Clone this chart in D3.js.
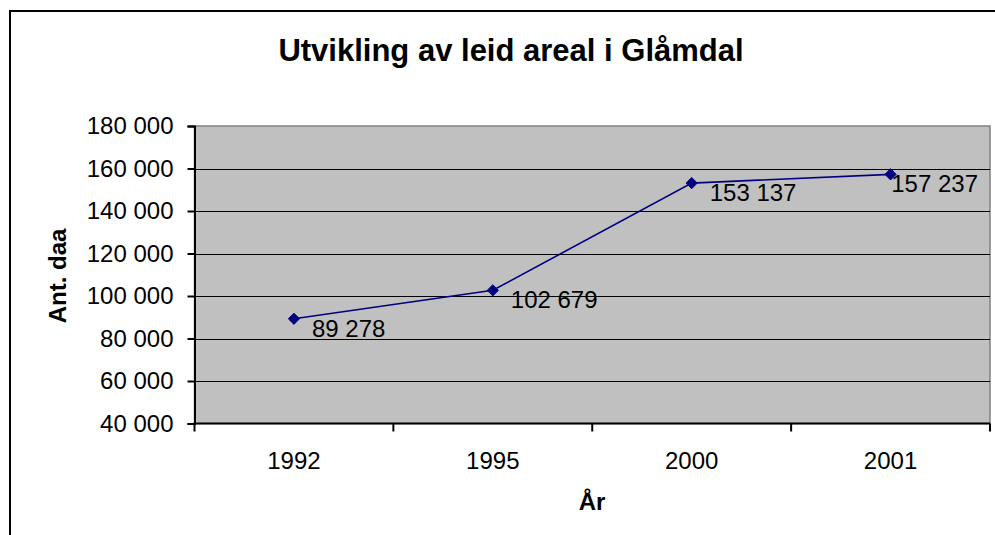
<!DOCTYPE html>
<meta charset="utf-8">
<style>
  body { margin: 0; background: #fff; }
  text { font-family: Arial, 'Liberation Sans', sans-serif; }
</style>
<body>
<script src="https://cdnjs.cloudflare.com/ajax/libs/d3/7.8.5/d3.min.js"></script>
<script>
  var years = ["1992", "1995", "2000", "2001"];
  var areal = [89278, 102679, 153137, 157237];
  var yTicks = [40000, 60000, 80000, 100000, 120000, 140000, 160000, 180000];

  var width = 995,
    height = 535;

  var plotL = 194.5, plotR = 990, plotT = 126, plotB = 423.5;

  var svg = d3.select("body").append("svg")
    .attr("width", width)
    .attr("height", height)

  // outer frame of chart
  svg.append("rect")
    .attr("x", 10).attr("y", 11)
    .attr("width", 1000).attr("height", 540)
    .attr("fill", "#fff")
    .attr("stroke", "#000")
    .attr("stroke-width", 2)

  var x = d3.scaleBand().domain(years).range([plotL, plotR]);
  var y = d3.scaleLinear().domain([40000, 180000]).range([plotB, plotT]);

  var fmt = function(v) {
    return d3.format(",")(v).replace(/,/g, " ")
  };

  // plot area
  svg.append("rect")
    .attr("x", plotL).attr("y", plotT)
    .attr("width", plotR - plotL).attr("height", plotB - plotT)
    .attr("fill", "#c0c0c0")
    .attr("stroke", "#808080")
    .attr("stroke-width", 1.5)

  // gridlines
  svg.append("g")
    .selectAll("line")
    .data(yTicks.slice(1, -1))
    .enter().append("line")
    .attr("x1", plotL).attr("x2", plotR)
    .attr("y1", function(d) { return Math.round(y(d)) + 0.5 })
    .attr("y2", function(d) { return Math.round(y(d)) + 0.5 })
    .attr("stroke", "#000")
    .attr("stroke-width", 1.2)

  // y axis
  var yAxis = svg.append("g")
    .attr("transform", "translate(" + plotL + ",0)")
    .call(d3.axisLeft(y).tickValues(yTicks).tickFormat(fmt).tickSizeOuter(0).tickSize(7).tickPadding(14));
  yAxis.select(".domain").attr("stroke-width", 2);
  yAxis.selectAll(".tick line").attr("stroke-width", 2);
  yAxis.selectAll("text").attr("font-size", 24).attr("fill", "#000")
    .attr("font-family", "Arial, 'Liberation Sans', sans-serif");

  // x axis, ticks between categories
  var xAxis = svg.append("g")
    .attr("transform", "translate(0," + plotB + ")");
  xAxis.append("line")
    .attr("x1", plotL - 1).attr("x2", plotR)
    .attr("stroke", "#000").attr("stroke-width", 2)
  var edges = years.map(function(d) { return x(d) }).concat([plotR]);
  xAxis.selectAll("line.tk")
    .data(edges)
    .enter().append("line")
    .attr("class", "tk")
    .attr("x1", function(d) { return d }).attr("x2", function(d) { return d })
    .attr("y1", 0).attr("y2", 8)
    .attr("stroke", "#000").attr("stroke-width", 2)
  xAxis.selectAll("text")
    .data(years)
    .enter().append("text")
    .attr("x", function(d) { return x(d) + x.bandwidth() / 2 })
    .attr("y", 45)
    .attr("text-anchor", "middle")
    .attr("font-size", 24)
    .text(function(d) { return d })

  var pts = years.map(function(d, i) {
    return { x: x(d) + x.bandwidth() / 2, y: y(areal[i]), v: areal[i] }
  });

  // line
  svg.append("path")
    .datum(pts)
    .attr("fill", "none")
    .attr("stroke", "#000080")
    .attr("stroke-width", 1.6)
    .attr("d", d3.line().x(function(d) { return d.x }).y(function(d) { return d.y }))

  // markers
  svg.append("g")
    .selectAll("path")
    .data(pts)
    .enter().append("path")
    .attr("transform", function(d) { return "translate(" + d.x + "," + d.y + ")" })
    .attr("d", d3.symbol(d3.symbolDiamond2, 80))
    .attr("fill", "#000080")
    .attr("stroke", "#000080")

  // data labels
  svg.append("g")
    .selectAll("text")
    .data(pts)
    .enter().append("text")
    .attr("y", function(d) { return d.y + 18 })
    .attr("font-size", 24)
    .text(function(d) { return fmt(d.v) })
    .attr("x", function(d) {
      var w = this.getComputedTextLength();
      return Math.min(d.x + 18, plotR - w - 12)
    })

  // titles
  svg.append("text")
    .attr("x", 511).attr("y", 61)
    .attr("text-anchor", "middle")
    .attr("font-size", 31).attr("font-weight", "bold")
    .text("Utvikling av leid areal i Glåmdal")

  svg.append("text")
    .attr("transform", "translate(66,276) rotate(-90)")
    .attr("text-anchor", "middle")
    .attr("font-size", 24).attr("font-weight", "bold")
    .text("Ant. daa")

  svg.append("text")
    .attr("x", 592).attr("y", 510)
    .attr("text-anchor", "middle")
    .attr("font-size", 24).attr("font-weight", "bold")
    .text("År")
</script>
</body>
